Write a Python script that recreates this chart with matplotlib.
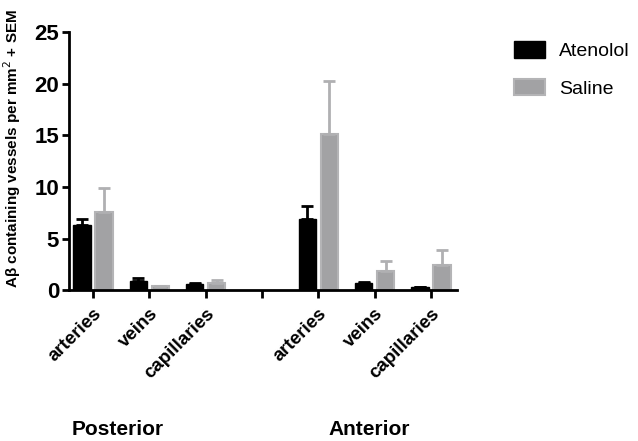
import numpy as np
import matplotlib
matplotlib.use('Agg')
import matplotlib.pyplot as plt

plt.rcParams['font.family'] = ['Liberation Sans', 'DejaVu Sans']

# данные
categories = ['arteries', 'veins', 'capillaries', '', 'arteries', 'veins', 'capillaries']
groups = ['Posterior', 'Anterior']
atenolol = [6.3, 0.87, 0.6, np.nan, 6.85, 0.7, 0.26]
atenolol_sem = [0.6, 0.28, 0.05, np.nan, 1.35, 0.05, 0.03]
saline = [7.55, 0.4, 0.65, np.nan, 15.1, 1.87, 2.42]
saline_sem = [2.35, 0.05, 0.3, np.nan, 5.2, 1.0, 1.46]

x = np.arange(len(categories))
w = 0.31
off = 0.195

fig = plt.figure(figsize=(6.38, 4.41), dpi=100)
ax = fig.add_axes([0.108, 0.342, 0.608, 0.585])

ax.bar(x - off, atenolol, w, color='black', edgecolor='black', label='Atenolol')
ax.bar(x + off, saline, w, color='#a2a2a4', edgecolor='#b4b4b6', linewidth=1.5, label='Saline')
ax.errorbar(x - off, atenolol, yerr=[np.zeros(len(x)), atenolol_sem], fmt='none',
            ecolor='black', elinewidth=2, capsize=4, capthick=2)
ax.errorbar(x + off, saline, yerr=[np.zeros(len(x)), saline_sem], fmt='none',
            ecolor='#b0b0b2', elinewidth=2, capsize=4, capthick=2)

ax.set_xlim(-0.43, 6.46)
ax.set_ylim(0, 25)
ax.set_yticks([0, 5, 10, 15, 20, 25])
ax.set_xticks(x)
ax.set_xticklabels(categories, rotation=45, ha='right', rotation_mode='anchor',
                   fontsize=13.5, fontweight='bold')
for lab in ax.get_yticklabels():
    lab.set_fontweight('bold')
ax.tick_params(axis='y', labelsize=16, width=2, length=5, pad=2)
ax.tick_params(axis='x', width=2, length=6, pad=5)
for s in ['top', 'right']:
    ax.spines[s].set_visible(False)
for s in ['left', 'bottom']:
    ax.spines[s].set_linewidth(2)

ax.set_ylabel('A\u03b2 containing vessels per mm$^2$ + SEM', fontsize=11, fontweight='bold')
ax.yaxis.set_label_coords(-0.118, 0.55)

fig.text(0.185, 0.025, groups[0], fontsize=15, fontweight='bold', ha='center', va='center')
fig.text(0.578, 0.025, groups[1], fontsize=15, fontweight='bold', ha='center', va='center')

fig.legend(loc='upper left', bbox_to_anchor=(0.806, 0.907), frameon=False, fontsize=14,
           borderpad=0, borderaxespad=0, handlelength=1.6, handleheight=0.95,
           handletextpad=0.7, labelspacing=0.95)

plt.savefig('out.png', dpi=100)
